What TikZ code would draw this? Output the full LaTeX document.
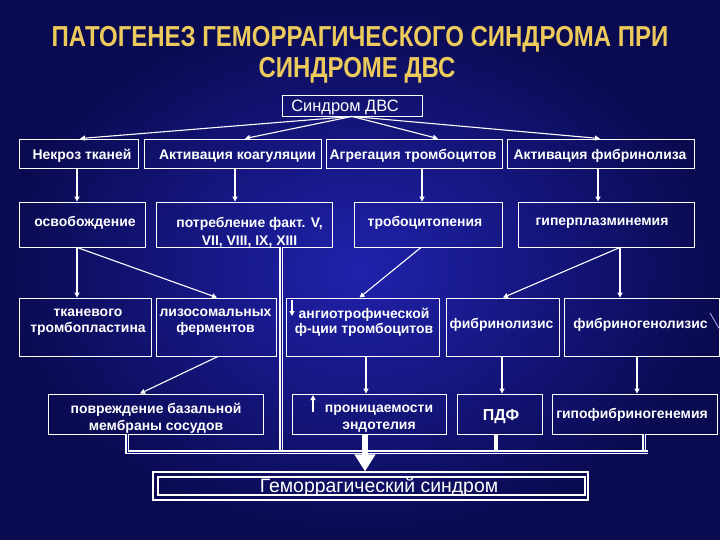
\documentclass[tikz,border=0pt]{standalone}
\usepackage{fontspec}
\setmainfont{Liberation Sans}
\newfontfamily\titlefont[FakeStretch=0.83]{Liberation Sans}
\usetikzlibrary{arrows.meta,calc}
\definecolor{bgin}{RGB}{32,34,172}
\definecolor{bgout}{RGB}{10,10,80}
\definecolor{bgmid}{RGB}{22,22,130}
\definecolor{gold}{RGB}{236,202,92}
\definecolor{lav}{RGB}{190,170,235}
\begin{document}
\begin{tikzpicture}[x=1bp,y=-1bp,
  box/.style={draw=white,line width=0.9bp,inner sep=0pt},
  txt/.style={text=white,font=\bfseries\fontsize{14}{16}\selectfont,align=center,inner sep=0pt},
  arr/.style={draw=white,line width=1.1bp,-{Triangle[length=5bp,width=5bp]}},
  dbl/.style={draw=white,double=bgmid,double distance=0.7bp,line width=1.3bp},
  ttl/.style={text=gold,font=\titlefont\bfseries\fontsize{29}{31}\selectfont,inner sep=0pt}]
\useasboundingbox (0,0) rectangle (720,540);
\shade[inner color=bgin, outer color=bgout] (0,0) rectangle (720,540);

% title
\node[ttl] (title1) at (360,39) {ПАТОГЕНЕЗ ГЕМОРРАГИЧЕСКОГО СИНДРОМА ПРИ};
\node[ttl] (title2) at (357,70) {СИНДРОМЕ ДВС};

% boxes
\node[box,minimum width=140bp,minimum height=21bp] (dvs) at (352,105.5) {};
\node[box,minimum width=119bp,minimum height=29bp] (nekroz) at (78.5,153.5) {};
\node[box,minimum width=177bp,minimum height=29bp] (koag) at (232.5,153.5) {};
\node[box,minimum width=176bp,minimum height=29bp] (agr) at (414,153.5) {};
\node[box,minimum width=187bp,minimum height=29bp] (fib) at (600.5,153.5) {};
\node[box,minimum width=126bp,minimum height=45bp] (osv) at (82,224.5) {};
\node[box,minimum width=176bp,minimum height=45bp] (potr) at (244,224.5) {};
\node[box,minimum width=148bp,minimum height=45bp] (trombo) at (428,224.5) {};
\node[box,minimum width=176bp,minimum height=45bp] (giper) at (606,224.5) {};
\node[box,minimum width=132bp,minimum height=58bp] (tkan) at (85,327) {};
\node[box,minimum width=120bp,minimum height=58bp] (lizo) at (216,327) {};
\node[box,minimum width=153bp,minimum height=58bp] (angio) at (362.5,327) {};
\node[box,minimum width=113bp,minimum height=58bp] (fibrl) at (502.5,327) {};
\node[box,minimum width=155bp,minimum height=58bp] (fibrg) at (641.5,327) {};
\node[box,minimum width=215bp,minimum height=40bp] (povr) at (155.5,414) {};
\node[box,minimum width=154bp,minimum height=40bp] (pron) at (369,414) {};
\node[box,minimum width=85bp,minimum height=40bp] (pdf) at (499.5,414) {};
\node[box,minimum width=165bp,minimum height=40bp] (gipo) at (634.5,414) {};
\node[box,line width=1.2bp,minimum width=435bp,minimum height=28bp] (gem) at (370.5,486) {};
\node[box,line width=1.8bp,minimum width=427bp,minimum height=18bp] (gemin) at (371.5,486) {};

% texts
\node[txt,font=\fontsize{16.5}{18}\selectfont] (t-dvs) at (345,107) {Синдром ДВС};
\node[txt] (t-nekroz) at (82,156) {Некроз тканей};
\node[txt] (t-koag) at (237.5,156) {Активация коагуляции};
\node[txt] (t-agr) at (413,156) {Агрегация тромбоцитов};
\node[txt] (t-fib) at (600,156) {Активация фибринолиза};
\node[txt] (t-osv) at (85,223) {освобождение};
\node[txt,font=\bfseries\fontsize{14}{18}\selectfont] (t-potr) at (249.5,232) {потребление факт. V,\\VII, VIII, IX, XIII};
\node[txt] (t-trombo) at (425,223) {тробоцитопения};
\node[txt] (t-giper) at (602,223) {гиперплазминемия};
\node[txt,font=\bfseries\fontsize{14}{15.5}\selectfont] (t-tkan) at (88,322) {тканевого\\тромбопластина};
\node[txt,font=\bfseries\fontsize{14}{15.5}\selectfont] (t-lizo) at (215.5,322) {лизосомальных\\ферментов};
\node[txt,font=\bfseries\fontsize{14}{15.5}\selectfont] (t-angio) at (364,322) {ангиотрофической\\ф-ции тромбоцитов};
\node[txt] (t-fibrl) at (501.5,325) {фибринолизис};
\node[txt] (t-fibrg) at (640.5,325) {фибриногенолизис};
\node[txt,font=\bfseries\fontsize{14}{17}\selectfont] (t-povr) at (156,418.5) {повреждение базальной\\мембраны сосудов};
\node[txt,font=\bfseries\fontsize{14}{17}\selectfont] (t-pron) at (379,418.5) {проницаемости\\эндотелия};
\node[txt,font=\bfseries\fontsize{16}{18}\selectfont] (t-pdf) at (501,417) {ПДФ};
\node[txt] (t-gipo) at (632,415) {гипофибриногенемия};
\node[txt,font=\fontsize{19.5}{21}\selectfont] (t-gem) at (379,487) {Геморрагический синдром};

% connectors from top box
\draw[arr] (dvs.south) -- ([xshift=1.5bp]nekroz.north);
\draw[arr] (dvs.south) -- ([xshift=12.5bp]koag.north);
\draw[arr] (dvs.south) -- ([xshift=24bp]agr.north);
\draw[arr] (dvs.south) -- ([xshift=-0.5bp]fib.north);

% row 1 -> row 2
\draw[arr] ([xshift=-1.5bp]nekroz.south) -- ([xshift=-1.5bp]nekroz.south |- osv.north);
\draw[arr] ([xshift=2.5bp]koag.south) -- ([xshift=2.5bp]koag.south |- potr.north);
\draw[arr] ([xshift=8bp]agr.south) -- ([xshift=8bp]agr.south |- trombo.north);
\draw[arr] ([xshift=-2.5bp]fib.south) -- ([xshift=-2.5bp]fib.south |- giper.north);

% row 2 -> row 3
\draw[arr] ([xshift=-5bp]osv.south) -- ([xshift=-5bp]osv.south |- tkan.north);
\draw[arr] ([xshift=-5bp]osv.south) -- ([xshift=1bp]lizo.north);
\draw[arr] ([xshift=-7bp]trombo.south) -- ([xshift=-3bp]angio.north);
\draw[arr] ([xshift=14bp]giper.south) -- ([xshift=0.5bp]fibrl.north);
\draw[arr] ([xshift=14bp]giper.south) -- ([xshift=14bp]giper.south |- fibrg.north);

% row 3 -> row 4
\draw[arr] ([xshift=2bp]lizo.south) -- ([xshift=-15.5bp]povr.north);
\draw[arr] ([xshift=3.5bp]angio.south) -- ([xshift=3.5bp]angio.south |- pron.north);
\draw[arr] ([xshift=-0.5bp]fibrl.south) -- ([xshift=-0.5bp]fibrl.south |- pdf.north);
\draw[arr] ([xshift=-4.5bp]fibrg.south) -- ([xshift=-4.5bp]fibrg.south |- gipo.north);

% small arrows inside boxes
\coordinate (sa1) at (292,300);
\coordinate (sa2) at (292,316);
\draw[arr] (sa1) -- (sa2);
\coordinate (sb1) at (313,412);
\coordinate (sb2) at (313,395);
\draw[arr] (sb1) -- (sb2);

% collecting bracket
\coordinate (jl) at (127,452);
\coordinate (jr) at (648,452);
\coordinate (jp) at (281,452);
\coordinate (jd) at (496,452);
\coordinate (jg) at (644,452);
\draw[dbl] (potr.south -| jp) -- (jp);
\draw[draw=white,line width=3.5bp] (pdf.south -| jd) -- (jd);
\draw[dbl] (gipo.south -| jg) -- (jg);
\draw[dbl] (povr.south -| jl) -- (jl) -- (jr);

% big arrow
\draw[white,line width=6bp,-{Triangle[length=17bp,width=20bp]}] ([xshift=-4bp]pron.south) -- ([xshift=-4bp]pron.south |- gem.north);

% stray diagonal mark
\draw[lav,line width=0.8bp] (710,313) -- (720,330);
\end{tikzpicture}
\end{document}
